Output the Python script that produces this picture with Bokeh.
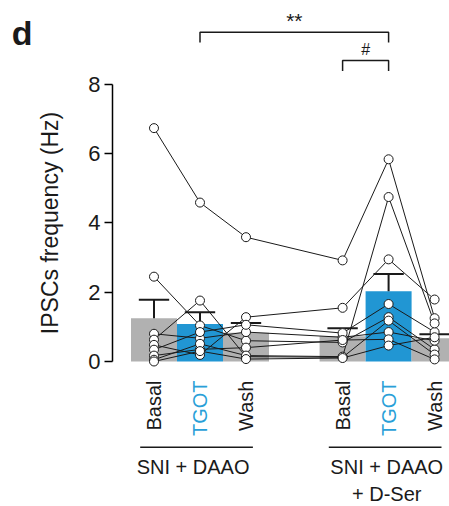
import numpy as np
from bokeh.plotting import figure
from bokeh.models import Range1d, FixedTicker, ColumnDataSource, LinearAxis
from bokeh.core.properties import value
from bokeh.embed import file_html
from bokeh.resources import INLINE

# ---------------- data ----------------
conditions = ["Basal", "TGOT", "Wash", "Basal", "TGOT", "Wash"]
x_pos = [1.0, 2.0, 3.0, 5.1, 6.1, 7.1]
bar_means = [1.25, 1.08, 0.83, 0.73, 2.03, 0.67]
bar_sems = [0.53, 0.34, 0.28, 0.23, 0.50, 0.12]
bar_colors = ["#B1B1B1", "#2196D3", "#B1B1B1", "#B1B1B1", "#2196D3", "#B1B1B1"]
label_colors = ["#1a1a1a", "#2A9FD8", "#1a1a1a", "#1a1a1a", "#2A9FD8", "#1a1a1a"]

# individual cells (same order in every list = same cell)
left_basal = [6.74, 2.45, 0.80, 0.63, 0.48, 0.34, 0.17, 0.05, 0.00]
left_tgot = [4.59, 1.04, 0.67, 1.76, 0.19, 0.85, 0.35, 0.51, 0.30]
left_wash = [3.59, 0.60, 0.85, 0.14, 1.28, 1.06, 0.40, 0.17, 0.07]
right_basal = [2.92, 0.55, 0.70, 0.12, 1.55, 0.82, 0.62, 0.14, 0.10]
right_tgot = [5.84, 1.28, 0.85, 1.18, 2.95, 1.66, 0.64, 4.75, 0.46]
right_wash = [1.25, 0.35, 0.60, 0.20, 1.79, 0.85, 0.06, 1.10, 0.70]

y_ticks = [0, 2, 4, 6, 8]
group_names = ["SNI + DAAO", "SNI + DAAO", "+ D-Ser"]
group_spans = [(0, 2), (3, 5)]
sig_labels = ["**", "#"]
sig_pairs = [(1, 4), (3, 4)]
sig_levels = [9.51, 8.69]
panel_letter = "d"

FONT = value("Liberation Sans")
INK = "#1a1a1a"

p = figure(width=449, height=506, output_backend="svg", toolbar_location=None,
           x_axis_type=None, y_axis_type=None,
           x_range=Range1d(-2.337, 7.424), y_range=Range1d(-4.188, 10.426),
           min_border_left=0, min_border_right=0, min_border_top=0, min_border_bottom=0)
p.outline_line_color = None
p.background_fill_color = "white"

# y axis, placed at a fixed x inside the frame
ax = LinearAxis(fixed_location=0.098, bounds=(0, 8), ticker=FixedTicker(ticks=y_ticks))
ax.minor_tick_line_color = None
ax.major_tick_out = 8
ax.major_tick_in = 0
ax.major_tick_line_width = 1.5
ax.axis_line_width = 1.5
ax.major_label_standoff = 4
ax.major_label_text_font = "Liberation Sans"
ax.major_label_text_font_size = "22px"
ax.major_label_text_color = INK
ax.axis_label = "IPSCs frequency (Hz)"
ax.axis_label_text_font = "Liberation Sans"
ax.axis_label_text_font_size = "23px"
ax.axis_label_text_font_style = "normal"
ax.axis_label_text_color = INK
ax.axis_label_standoff = 22
p.add_layout(ax, "left")

# bars
bars = ColumnDataSource(dict(x=x_pos, top=bar_means, color=bar_colors,
                             err=[m + s for m, s in zip(bar_means, bar_sems)]))
p.vbar(x="x", top="top", bottom=0, width=1.0, fill_color="color", line_color=None, source=bars)

# error bars (upper only)
cap = 0.33
p.segment(x0="x", y0="top", x1="x", y1="err", line_color=INK, line_width=2, source=bars)
p.segment(x0=[x - cap for x in x_pos], y0=bars.data["err"], x1=[x + cap for x in x_pos],
          y1=bars.data["err"], line_color=INK, line_width=2)

# individual cells
columns = [left_basal, left_tgot, left_wash, right_basal, right_tgot, right_wash]
cells = [list(v) for v in zip(*columns)]
p.multi_line(xs=[x_pos] * len(cells), ys=cells, line_color=INK, line_width=1)
px = [x for x, col in zip(x_pos, columns) for _ in col]
py = [v for col in columns for v in col]
p.scatter(px, py, size=9, fill_color="white", line_color=INK, line_width=1)

# condition labels
p.text(x=x_pos, y=[-0.55] * 6, text=conditions, angle=np.pi / 2, text_align="right",
       text_baseline="middle", text_color=label_colors, text_font=FONT, text_font_size="20px")

# group lines and names
for (a, b) in group_spans:
    p.segment(x0=[x_pos[a] - 0.3], y0=[-2.48], x1=[x_pos[b] + 0.15], y1=[-2.48],
              line_color=INK, line_width=1.5)
p.text(x=[1.85, 6.06, 6.06], y=[-3.05, -3.05, -3.82], text=group_names,
       text_align="center", text_baseline="middle", text_color=INK,
       text_font=FONT, text_font_size="20px")

# significance brackets
for (a, b), lev, lab, fs in zip(sig_pairs, sig_levels, sig_labels, ["21px", "16px"]):
    xa, xb = x_pos[a], x_pos[b]
    p.line(x=[xa, xa, xb, xb], y=[lev - 0.3, lev, lev, lev - 0.3], line_color=INK, line_width=1.5)
    p.text(x=[(xa + xb) / 2], y=[lev + 0.33], text=[lab], text_align="center",
           text_baseline="middle", text_color=INK, text_font=FONT, text_font_size=fs)

# panel letter
p.text(x=[-2.09], y=[9.48], text=[panel_letter], text_align="left", text_baseline="alphabetic",
       text_color=INK, text_font=FONT, text_font_size="34px", text_font_style="bold")

open("out.html", "w").write(file_html(p, INLINE))
